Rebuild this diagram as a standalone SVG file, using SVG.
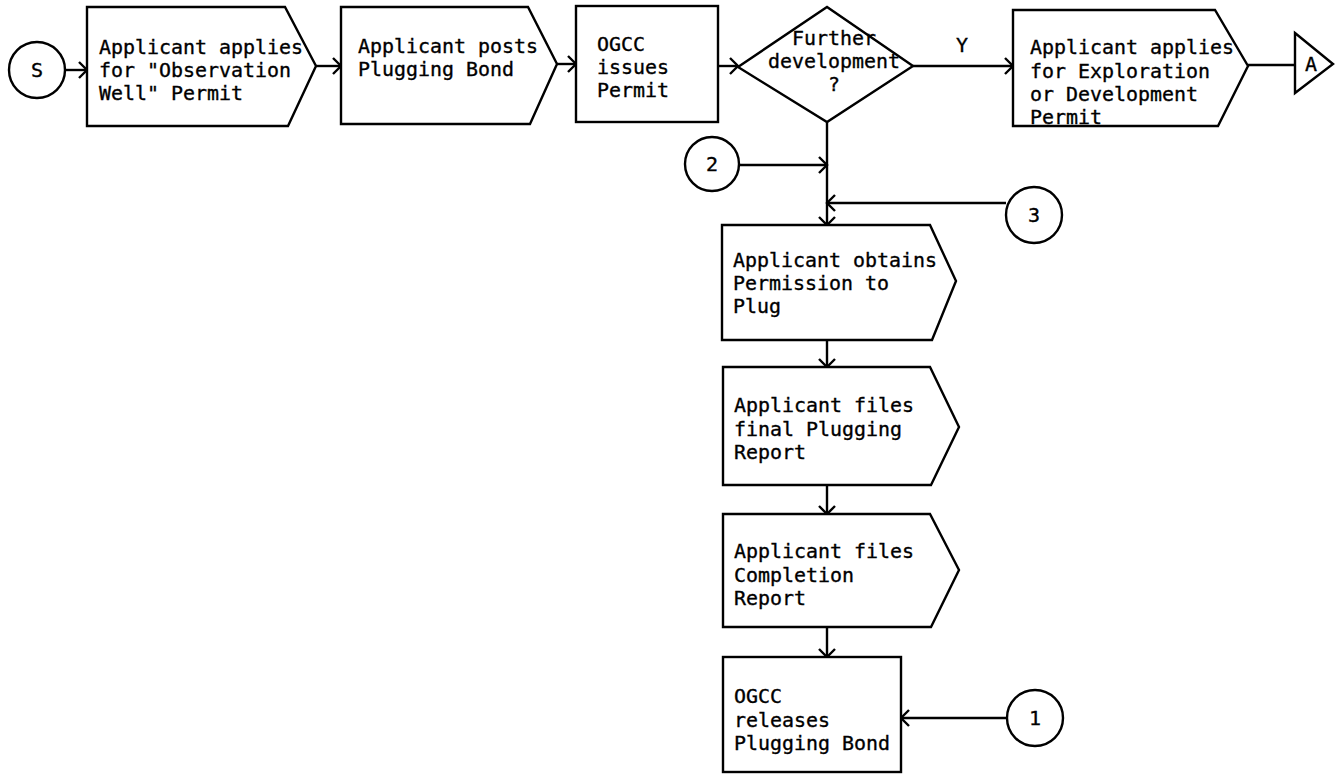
<svg xmlns="http://www.w3.org/2000/svg" width="1341" height="774" viewBox="0 0 1341 774">
  <style>
    .shape { fill: #fff; stroke: #000; stroke-width: 2.4; stroke-linejoin: miter; }
    .wire { fill: none; stroke: #000; stroke-width: 2.4; }
    .txt { font-family: "DejaVu Sans Mono", "Liberation Mono", monospace; font-size: 19.8px; fill: #000; stroke: #000; stroke-width: 0.35; }
    .lbl { font-family: "DejaVu Sans Mono", "Liberation Mono", monospace; font-size: 20px; fill: #000; stroke: #000; stroke-width: 0.35; text-anchor: middle; }
  </style>
  <defs>
    <marker id="ah" markerUnits="userSpaceOnUse" markerWidth="20" markerHeight="20" viewBox="0 0 20 20" refX="11" refY="8" orient="auto" overflow="visible">
      <path d="M3,0 L11,8 L3,16" fill="none" stroke="#000" stroke-width="2.4"/>
    </marker>
  </defs>
  <rect width="1341" height="774" fill="#fff"/>

  <!-- connectors -->
  <g id="connectors">
    <path class="wire" d="M65,70 H87" marker-end="url(#ah)"/>
    <path class="wire" d="M316,66 H341" marker-end="url(#ah)"/>
    <path class="wire" d="M557,64 H576" marker-end="url(#ah)"/>
    <path class="wire" d="M718,66 H738" marker-end="url(#ah)"/>
    <path class="wire" d="M913,66 H1013" marker-end="url(#ah)"/>
    <text class="lbl" x="962" y="52">Y</text>
    <path class="wire" d="M1248,65 H1295"/>
    <path class="wire" d="M827,122 V225" marker-end="url(#ah)"/>
    <path class="wire" d="M739,165 H827" marker-end="url(#ah)"/>
    <path class="wire" d="M1006,203 H827" marker-end="url(#ah)"/>
    <path class="wire" d="M827,340 V367" marker-end="url(#ah)"/>
    <path class="wire" d="M827,485 V514" marker-end="url(#ah)"/>
    <path class="wire" d="M827,627 V657" marker-end="url(#ah)"/>
    <path class="wire" d="M1007,718 H901" marker-end="url(#ah)"/>
  </g>

  <!-- start terminal -->
  <g id="start">
    <circle class="shape" cx="37" cy="70" r="28"/>
    <text class="lbl" x="37" y="77">S</text>
  </g>

  <g id="observation-permit">
    <path class="shape" d="M87,7 H285 L316,66 L288,126 H87 Z"/>
    <text class="txt" x="99" y="54" textLength="204" lengthAdjust="spacingAndGlyphs">Applicant applies</text>
    <text class="txt" x="99" y="77.2" textLength="192" lengthAdjust="spacingAndGlyphs">for "Observation</text>
    <text class="txt" x="99" y="100.4" textLength="144" lengthAdjust="spacingAndGlyphs">Well" Permit</text>
  </g>

  <g id="plugging-bond">
    <path class="shape" d="M341,7 H528 L557,64 L530,124 H341 Z"/>
    <text class="txt" x="358" y="53" textLength="180" lengthAdjust="spacingAndGlyphs">Applicant posts</text>
    <text class="txt" x="358" y="76.2" textLength="156" lengthAdjust="spacingAndGlyphs">Plugging Bond</text>
  </g>

  <g id="issues-permit">
    <rect class="shape" x="576" y="6" width="142" height="116"/>
    <text class="txt" x="597" y="51" textLength="48" lengthAdjust="spacingAndGlyphs">OGCC</text>
    <text class="txt" x="597" y="74.2" textLength="72" lengthAdjust="spacingAndGlyphs">issues</text>
    <text class="txt" x="597" y="97.4" textLength="72" lengthAdjust="spacingAndGlyphs">Permit</text>
  </g>

  <g id="further-development">
    <path class="shape" d="M738,67 L827,7 L913,66 L827,122 Z"/>
    <text class="txt" x="792" y="45" textLength="84" lengthAdjust="spacingAndGlyphs">Further</text>
    <text class="txt" x="768" y="68.2" textLength="132" lengthAdjust="spacingAndGlyphs">development</text>
    <text class="txt" x="828" y="91.4" textLength="12" lengthAdjust="spacingAndGlyphs">?</text>
  </g>

  <g id="exploration-permit">
    <path class="shape" d="M1013,10 H1215 L1248,66 L1218,126 H1013 Z"/>
    <text class="txt" x="1030" y="54.4" textLength="204" lengthAdjust="spacingAndGlyphs">Applicant applies</text>
    <text class="txt" x="1030" y="77.6" textLength="180" lengthAdjust="spacingAndGlyphs">for Exploration</text>
    <text class="txt" x="1030" y="100.8" textLength="168" lengthAdjust="spacingAndGlyphs">or Development</text>
    <text class="txt" x="1030" y="124" textLength="72" lengthAdjust="spacingAndGlyphs">Permit</text>
  </g>

  <g id="connector-a">
    <path class="shape" d="M1295,33 L1333,64 L1295,93 Z"/>
    <text class="lbl" x="1311" y="71">A</text>
  </g>

  <g id="connector-2">
    <circle class="shape" cx="712" cy="164" r="27"/>
    <text class="lbl" x="712" y="171">2</text>
  </g>

  <g id="connector-3">
    <circle class="shape" cx="1034" cy="215" r="28"/>
    <text class="lbl" x="1034" y="222">3</text>
  </g>

  <g id="permission-to-plug">
    <path class="shape" d="M722,225 H930 L956,281 L932,340 H722 Z"/>
    <text class="txt" x="733" y="267" textLength="204" lengthAdjust="spacingAndGlyphs">Applicant obtains</text>
    <text class="txt" x="733" y="290.2" textLength="156" lengthAdjust="spacingAndGlyphs">Permission to</text>
    <text class="txt" x="733" y="313.4" textLength="48" lengthAdjust="spacingAndGlyphs">Plug</text>
  </g>

  <g id="plugging-report">
    <path class="shape" d="M723,367 H930 L959,427 L931,485 H723 Z"/>
    <text class="txt" x="734" y="412" textLength="180" lengthAdjust="spacingAndGlyphs">Applicant files</text>
    <text class="txt" x="734" y="435.5" textLength="168" lengthAdjust="spacingAndGlyphs">final Plugging</text>
    <text class="txt" x="734" y="459" textLength="72" lengthAdjust="spacingAndGlyphs">Report</text>
  </g>

  <g id="completion-report">
    <path class="shape" d="M723,514 H930 L959,570 L931,627 H723 Z"/>
    <text class="txt" x="734" y="558" textLength="180" lengthAdjust="spacingAndGlyphs">Applicant files</text>
    <text class="txt" x="734" y="581.5" textLength="120" lengthAdjust="spacingAndGlyphs">Completion</text>
    <text class="txt" x="734" y="605" textLength="72" lengthAdjust="spacingAndGlyphs">Report</text>
  </g>

  <g id="releases-bond">
    <rect class="shape" x="723" y="657" width="178" height="115"/>
    <text class="txt" x="734" y="703" textLength="48" lengthAdjust="spacingAndGlyphs">OGCC</text>
    <text class="txt" x="734" y="726.5" textLength="96" lengthAdjust="spacingAndGlyphs">releases</text>
    <text class="txt" x="734" y="750" textLength="156" lengthAdjust="spacingAndGlyphs">Plugging Bond</text>
  </g>

  <g id="connector-1">
    <circle class="shape" cx="1035" cy="718" r="28"/>
    <text class="lbl" x="1035" y="725">1</text>
  </g>
</svg>
